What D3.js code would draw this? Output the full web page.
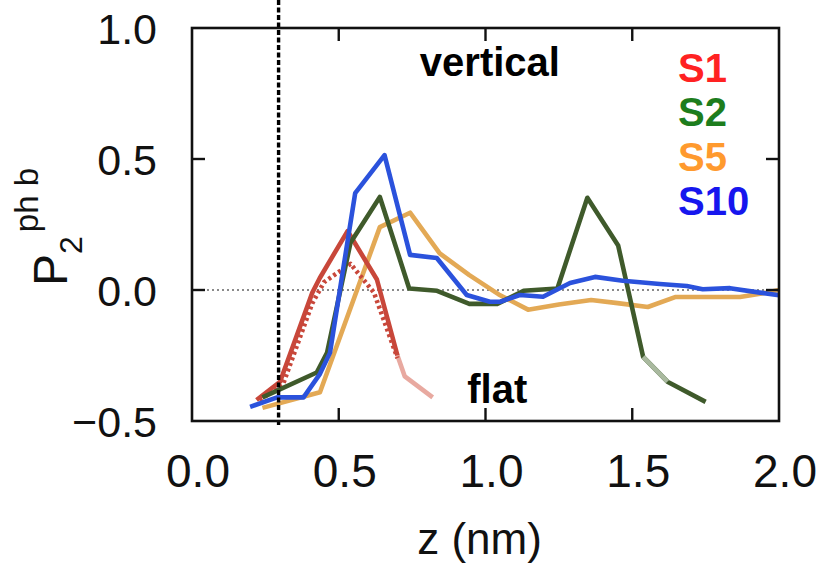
<!DOCTYPE html>
<html>
<head>
<meta charset="utf-8">
<script src="https://cdn.jsdelivr.net/npm/d3@7"></script>
<style>
  body { margin: 0; background: #ffffff; }
  svg { display: block; font-family: 'Liberation Sans', Arial, Helvetica, sans-serif; }
  .frame { fill: none; stroke: #111; stroke-width: 2.6px; }
  .line { fill: none; stroke-width: 4.6px; stroke-linejoin: round; stroke-linecap: butt; }
</style>
</head>
<body>
<div id="chart"></div>
<script>
// tick labels
const xTicks = [0, 0.5, 1.0, 1.5, 2.0];
const yTicks = [-0.5, 0, 0.5, 1.0];
const xInnerTicks = [0.5, 1.0, 1.5];
const yInnerTicks = [0, 0.5];

// series, [z (nm), P2]
const s1 = [[0.22, -0.42], [0.30, -0.35], [0.41, -0.01], [0.435, 0.045], [0.53, 0.225], [0.63, 0.04], [0.70, -0.25]];
const s1Tail = [[0.70, -0.25], [0.725, -0.33], [0.82, -0.41]];
const s1Dotted = [[0.23, -0.42], [0.31, -0.36], [0.41, -0.05], [0.45, 0.03], [0.54, 0.10], [0.62, -0.01], [0.70, -0.26]];
const s2 = [[0.24, -0.41], [0.425, -0.315], [0.46, -0.24], [0.54, 0.18], [0.64, 0.355], [0.74, 0.006], [0.835, -0.003],
  [0.945, -0.053], [1.04, -0.053], [1.13, -0.003], [1.245, 0.006], [1.347, 0.352], [1.452, 0.17], [1.537, -0.255],
  [1.62, -0.35], [1.75, -0.427]];
const s2Faded = [[1.537, -0.255], [1.62, -0.35]];
const s5 = [[0.24, -0.45], [0.436, -0.39], [0.64, 0.24], [0.743, 0.295], [0.844, 0.14], [0.945, 0.057], [1.045, -0.017],
  [1.145, -0.075], [1.25, -0.055], [1.36, -0.038], [1.45, -0.05], [1.553, -0.065], [1.646, -0.027], [1.867, -0.027],
  [1.946, -0.012], [2.0, 0.0]];
const s10 = [[0.198, -0.446], [0.29, -0.41], [0.38, -0.41], [0.436, -0.32], [0.47, -0.24], [0.556, 0.37], [0.656, 0.515],
  [0.743, 0.134], [0.834, 0.122], [0.936, -0.019], [1.015, -0.045], [1.05, -0.045], [1.117, -0.019], [1.196, -0.026],
  [1.288, 0.027], [1.373, 0.05], [1.468, 0.035], [1.594, 0.023], [1.686, 0.015], [1.74, 0.003], [1.833, 0.007],
  [1.935, -0.01], [2.0, -0.02]];

const legendNames = ['S1', 'S2', 'S5', 'S10'];
const legendColors = ['#ff2222', '#1d7d1d', '#ff9a2e', '#1616ee'];

const margin = { top: 28, right: 49, bottom: 145, left: 192 },
  width = 828 - margin.left - margin.right,
  height = 566 - margin.top - margin.bottom;

const xScale = d3.scaleLinear().domain([0, 2]).range([0, width]);
const yScale = d3.scaleLinear().domain([-0.5, 1.0]).range([height, 0]);

const svg = d3.select('#chart')
  .append('svg')
  .attr('width', 828)
  .attr('height', 566)
  .append('g')
  .attr('transform', 'translate(' + margin.left + ',' + margin.top + ')');

// zero line
svg.append('line')
  .attr('x1', 0).attr('x2', width)
  .attr('y1', yScale(0)).attr('y2', yScale(0))
  .attr('stroke', '#8a8a8a').attr('stroke-width', 2).attr('stroke-dasharray', '2 3');

const line = d3.line().x(d => xScale(d[0])).y(d => yScale(d[1]));

svg.append('path').attr('class', 'line').attr('stroke', '#e3a955').attr('d', line(s5));
svg.append('path').attr('class', 'line').attr('stroke', '#e8a9a0').attr('d', line(s1Tail));
svg.append('path').attr('class', 'line').attr('stroke', '#c8473a').attr('d', line(s1));
svg.append('path').attr('class', 'line').attr('stroke', '#c8473a').attr('stroke-width', 5)
  .attr('stroke-dasharray', '3 3').attr('d', line(s1Dotted));
svg.append('path').attr('class', 'line').attr('stroke', '#3f5a2b').attr('d', line(s2));
svg.append('path').attr('class', 'line').attr('stroke', '#a9b99f').attr('d', line(s2Faded));
svg.append('path').attr('class', 'line').attr('stroke', '#2b52dc').attr('d', line(s10));

// vertical dashed line
svg.append('line')
  .attr('x1', xScale(0.295)).attr('x2', xScale(0.295))
  .attr('y1', -margin.top).attr('y2', height + 6)
  .attr('stroke', '#000').attr('stroke-width', 3.4).attr('stroke-dasharray', '5 2.5');

// frame and inner ticks
svg.append('rect').attr('class', 'frame').attr('x', 0).attr('y', 0).attr('width', width).attr('height', height);
const tickLen = 13;
xInnerTicks.forEach(t => {
  svg.append('line').attr('x1', xScale(t)).attr('x2', xScale(t)).attr('y1', 0).attr('y2', tickLen).attr('stroke', '#111').attr('stroke-width', 2.4);
  svg.append('line').attr('x1', xScale(t)).attr('x2', xScale(t)).attr('y1', height).attr('y2', height - tickLen).attr('stroke', '#111').attr('stroke-width', 2.4);
});
yInnerTicks.forEach(t => {
  svg.append('line').attr('x1', 0).attr('x2', tickLen).attr('y1', yScale(t)).attr('y2', yScale(t)).attr('stroke', '#111').attr('stroke-width', 2.4);
  svg.append('line').attr('x1', width).attr('x2', width - tickLen).attr('y1', yScale(t)).attr('y2', yScale(t)).attr('stroke', '#111').attr('stroke-width', 2.4);
});

// tick labels
const fmt = d => (d < 0 ? '\u2212' : '') + Math.abs(d).toFixed(1);
svg.selectAll('.xlab').data(xTicks).enter().append('text')
  .attr('x', d => xScale(d) + 6).attr('y', height + 66)
  .attr('text-anchor', 'middle').attr('font-size', 46).attr('fill', '#111')
  .text(fmt);
svg.selectAll('.ylab').data(yTicks).enter().append('text')
  .attr('x', -35).attr('y', d => yScale(d) + 16)
  .attr('text-anchor', 'end').attr('font-size', 43).attr('fill', '#111')
  .text(fmt);

// axis titles
svg.append('text')
  .attr('x', width / 2 - 6).attr('y', height + 133)
  .attr('text-anchor', 'middle').attr('font-size', 44).attr('fill', '#111')
  .text('z (nm)');

const yTitle = svg.append('text')
  .attr('transform', 'translate(' + (67 - margin.left) + ',' + (286 - margin.top) + ') rotate(-90)')
  .attr('fill', '#111');
yTitle.append('tspan').attr('font-size', 48).text('P');
yTitle.append('tspan').attr('font-size', 32).attr('dy', 15).text('2');
yTitle.append('tspan').attr('font-size', 33).attr('dy', -44).attr('dx', 4).text('ph b');

// annotations
svg.append('text').attr('x', xScale(1.015)).attr('y', yScale(0.817))
  .attr('text-anchor', 'middle').attr('font-size', 40).attr('font-weight', 'bold').attr('fill', '#000')
  .text('vertical');
svg.append('text').attr('x', xScale(1.04)).attr('y', yScale(-0.431))
  .attr('text-anchor', 'middle').attr('font-size', 40).attr('font-weight', 'bold').attr('fill', '#000')
  .text('flat');

// legend
svg.selectAll('.legend').data(legendNames).enter().append('text')
  .attr('x', 678 - margin.left).attr('y', (d, i) => 82 - margin.top + i * 44.3)
  .attr('font-size', 40).attr('font-weight', 'bold')
  .attr('fill', (d, i) => legendColors[i])
  .text(d => d);
</script>
</body>
</html>
